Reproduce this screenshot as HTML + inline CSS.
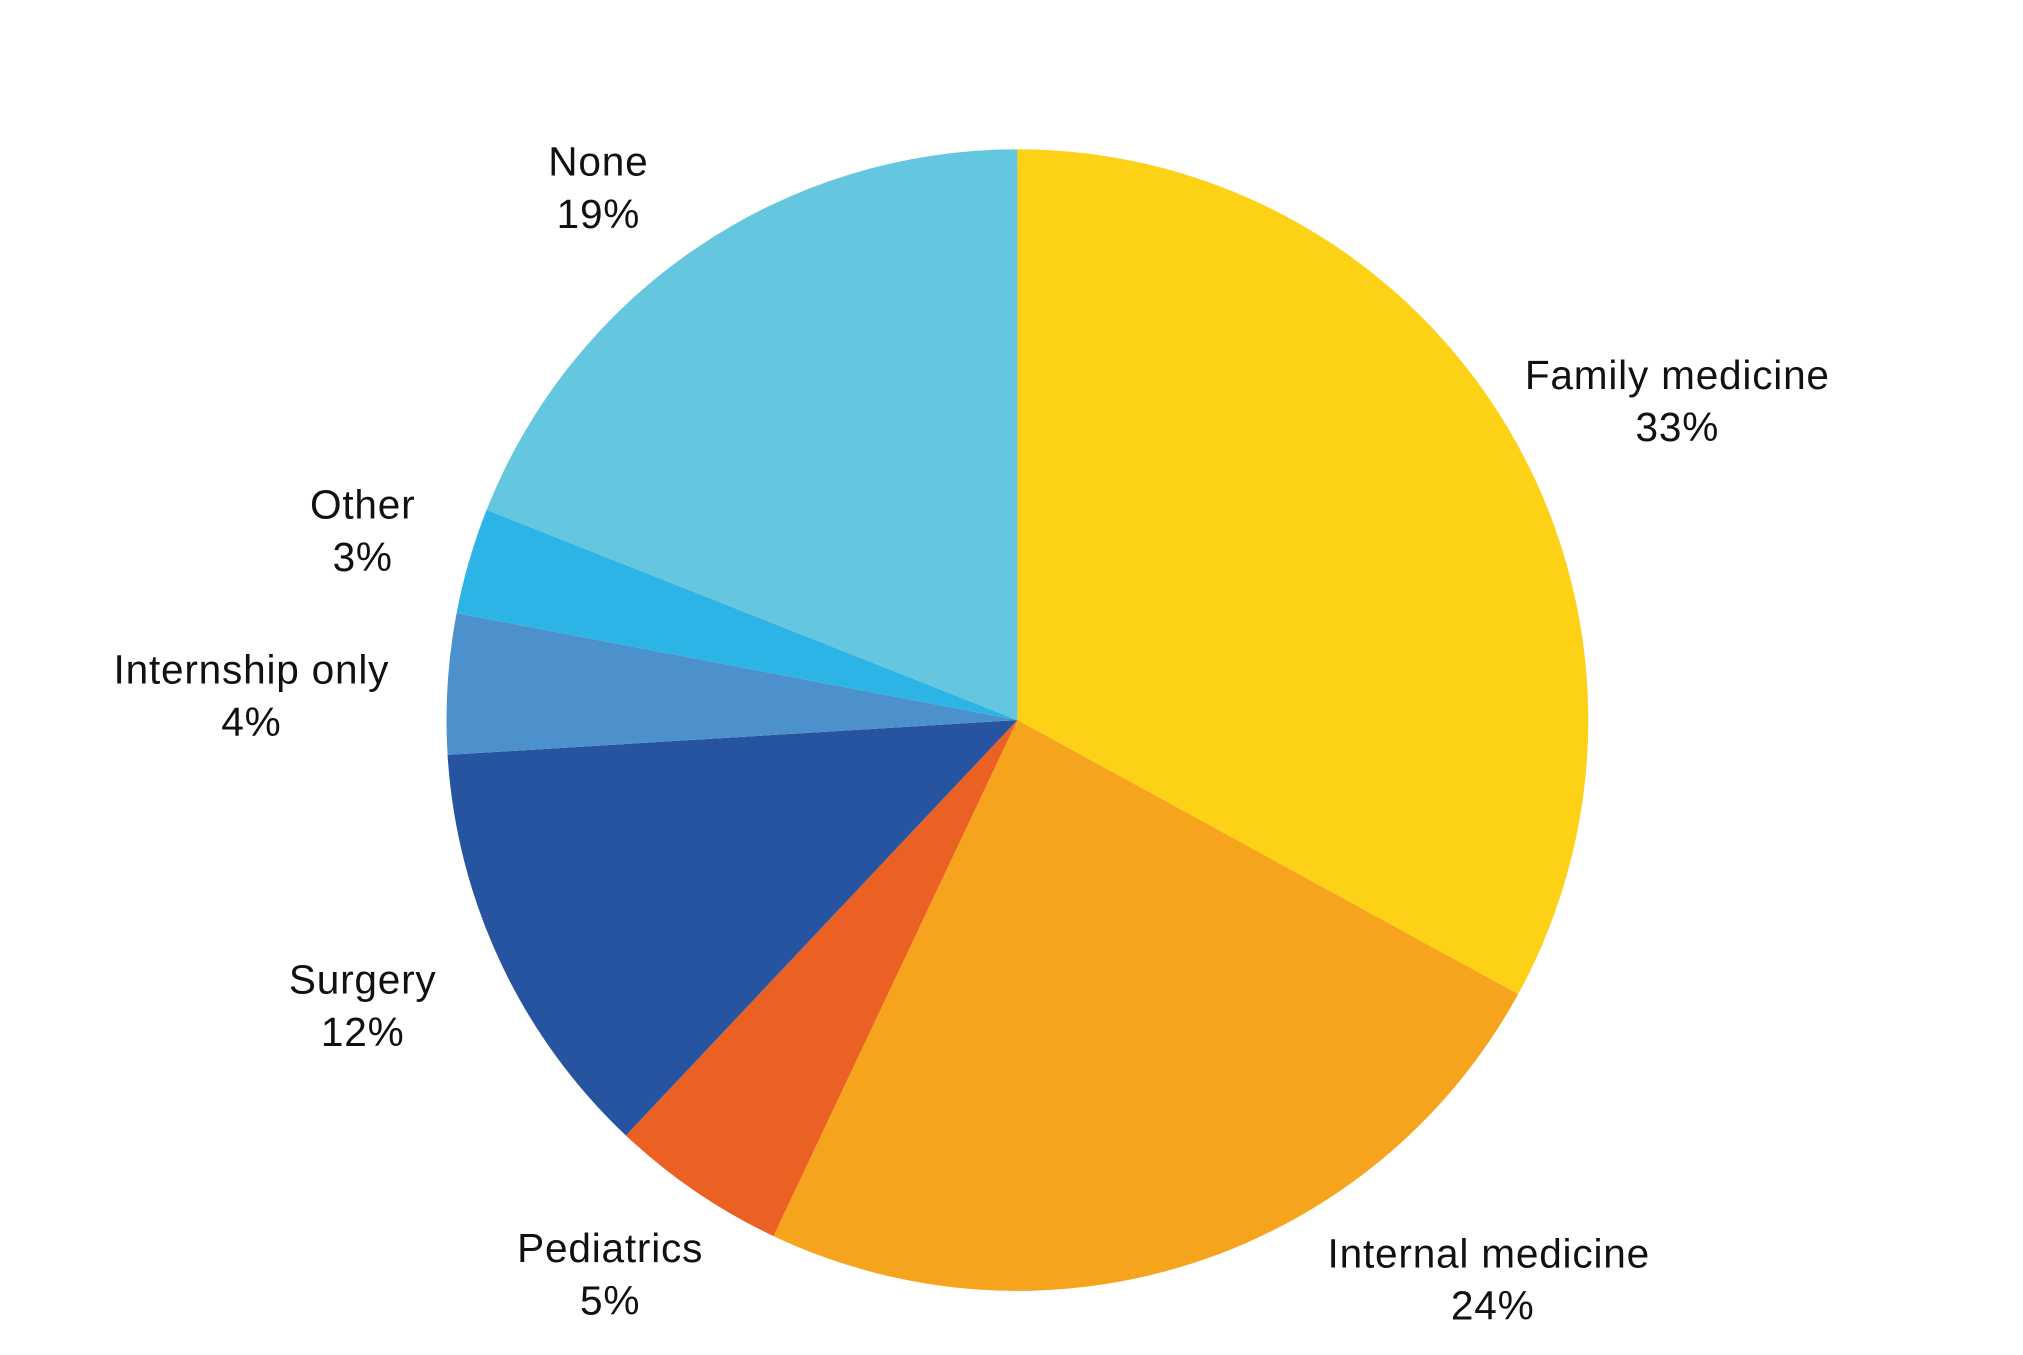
<!DOCTYPE html>
<html><head><meta charset="utf-8"><style>
html,body{margin:0;padding:0;background:#fff;}
svg{display:block;}
text{font-family:"Liberation Sans","DejaVu Sans",sans-serif;font-size:31px;letter-spacing:0.6px;fill:#111;text-anchor:middle;}
</style></head><body>
<svg id="s" width="2023" height="1355" viewBox="0 0 1545 1035" preserveAspectRatio="none" xmlns="http://www.w3.org/2000/svg">
<g id="pie"></g>
<text x="1281" y="297">Family medicine</text><text x="1281" y="337">33%</text>
<text x="1137" y="968">Internal medicine</text><text x="1140" y="1008">24%</text>
<text x="466" y="964">Pediatrics</text><text x="466" y="1004">5%</text>
<text x="277" y="759">Surgery</text><text x="277" y="799">12%</text>
<text x="192" y="522">Internship only</text><text x="192" y="562">4%</text>
<text x="277" y="396">Other</text><text x="277" y="436">3%</text>
<text x="457" y="134">None</text><text x="457" y="174">19%</text>
</svg>
<script>
var cx=777,cy=550,r=436;
var seg=[[0,118.7,"#FCD116"],[118.7,205.3,"#F6A41D"],[205.3,223.3,"#EB6023"],[223.3,266.5,"#2754A1"],[266.5,280.8,"#4C91CB"],[280.8,291.6,"#2DB4E6"],[291.6,360,"#64C6DF"]];
function pt(a){var t=a*Math.PI/180;return [cx+r*Math.sin(t),cy-r*Math.cos(t)];}
var g=document.getElementById("pie"),h="";
seg.forEach(function(s){var p=pt(s[0]),q=pt(s[1]),l=(s[1]-s[0])>180?1:0;
h+='<path d="M'+cx+' '+cy+' L'+p[0]+' '+p[1]+' A'+r+' '+r+' 0 '+l+' 1 '+q[0]+' '+q[1]+' Z" fill="'+s[2]+'"/>';});
g.innerHTML=h;
</script>
</body></html>
